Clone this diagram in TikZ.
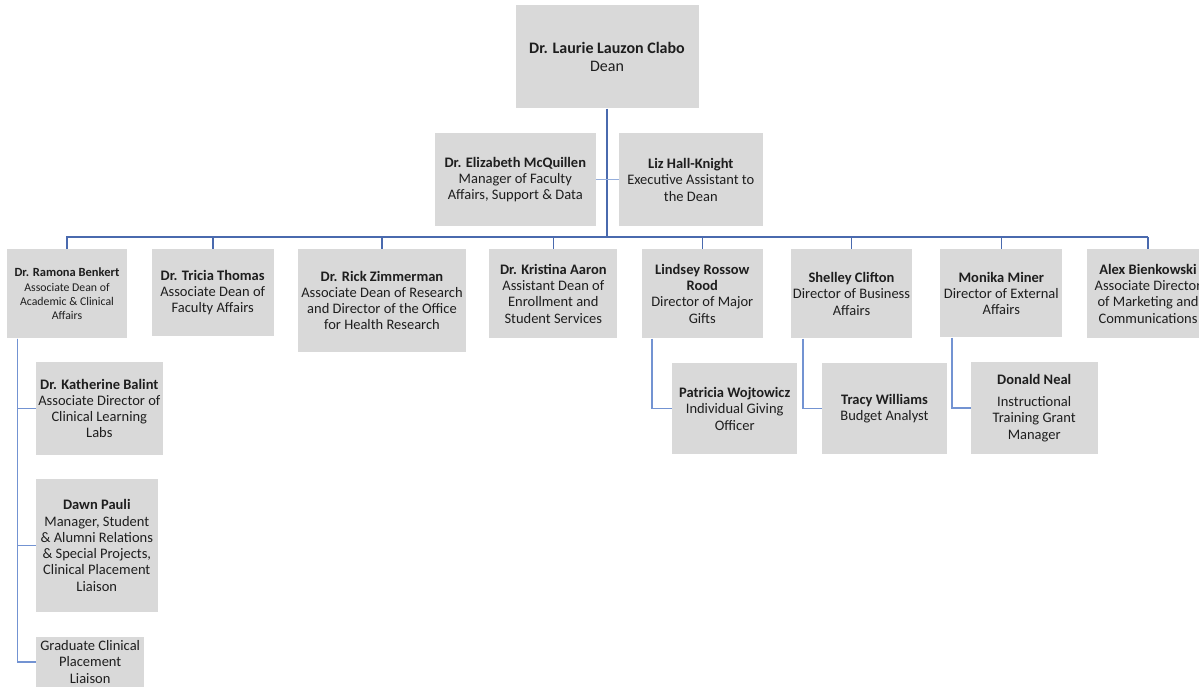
\documentclass[tikz,border=0pt]{standalone}
\usepackage{fontspec}
\setmainfont{Carlito}
\definecolor{boxgray}{HTML}{D9D9D9}
\definecolor{txt}{HTML}{1E1E1E}
\definecolor{trunkblue}{HTML}{4A6AAE}
\definecolor{subblue}{HTML}{7393D2}
\definecolor{asstblue}{HTML}{95AEDC}
\begin{document}
\begin{tikzpicture}[x=1pt,y=-1pt,
  box/.style={rectangle, fill=boxgray, inner sep=0pt, align=center, text=txt,
    font=\fontsize{14.5}{16.3}\selectfont},
  deanbox/.style={box, font=\fontsize{16}{18.3}\selectfont},
  smallbox/.style={box, font=\fontsize{11.8}{14.2}\selectfont},
  trunk/.style={draw=trunkblue, line width=2pt},
  drop/.style={draw=trunkblue, line width=1.6pt},
  sub/.style={draw=subblue, line width=1.5pt},
  asst/.style={draw=asstblue, line width=1.5pt}]
\useasboundingbox (0,0) rectangle (1199,687);
\clip (0,0) rectangle (1199,687);

% top
\node[deanbox, minimum width=183pt, minimum height=103.5pt] (dean) at (607,56.75)
  {\textbf{Dr. Laurie Lauzon Clabo}\\Dean};
\node[box, minimum width=160.7pt, minimum height=92.7pt] (mcq) at (515.3,179.7)
  {\textbf{Dr. Elizabeth McQuillen}\\Manager of Faculty\\Affairs, Support \& Data};
\node[box, minimum width=143.7pt, minimum height=92.7pt] (liz) at (690.8,179.7)
  {\textbf{Liz Hall-Knight}\\Executive Assistant to\\the Dean};

% second row
\node[smallbox, minimum width=120.6pt, minimum height=89pt] (ramona) at (67,293.8)
  {\textbf{\fontsize{12.5}{14.2}\selectfont Dr. Ramona Benkert}\\Associate Dean of\\Academic \& Clinical\\Affairs};
\node[box, minimum width=122pt, minimum height=86.4pt] (tricia) at (212.7,292.5)
  {\textbf{Dr. Tricia Thomas}\\Associate Dean of\\Faculty Affairs};
\node[box, minimum width=167.4pt, minimum height=102.4pt] (rick) at (382,300.5)
  {\textbf{Dr. Rick Zimmerman}\\Associate Dean of Research\\and Director of the Office\\for Health Research};
\node[box, minimum width=128pt, minimum height=89pt] (kristina) at (553.3,293.8)
  {\textbf{Dr. Kristina Aaron}\\Assistant Dean of\\Enrollment and\\Student Services};
\node[box, minimum width=120.7pt, minimum height=89pt] (lindsey) at (702.3,293.8)
  {\textbf{Lindsey Rossow}\\\textbf{Rood}\\Director of Major\\Gifts};
\node[box, minimum width=121pt, minimum height=89pt] (shelley) at (851.5,293.8)
  {\textbf{Shelley Clifton}\\Director of Business\\Affairs};
\node[box, minimum width=122pt, minimum height=88pt] (monika) at (1001.3,293.3)
  {\textbf{Monika Miner}\\Director of External\\Affairs};
\node[box, minimum width=122.6pt, minimum height=89pt] (alex) at (1148,293.8)
  {\textbf{Alex Bienkowski}\\Associate Director\\of Marketing and\\Communications};

% third row
\node[box, minimum width=125.3pt, minimum height=90.7pt] (patricia) at (734.7,408.7)
  {\textbf{Patricia Wojtowicz}\\Individual Giving\\Officer};
\node[box, minimum width=125.6pt, minimum height=90.7pt] (tracy) at (884.5,408.7)
  {\textbf{Tracy Williams}\\Budget Analyst};
\node[box, minimum width=127pt, minimum height=92pt] (donald) at (1034.2,408)
  {\textbf{Donald Neal}\\[6pt]Instructional\\Training Grant\\Manager};

% Ramona's reports
\node[box, minimum width=126.7pt, minimum height=93.6pt] (katherine) at (99.3,408.5)
  {\textbf{Dr. Katherine Balint}\\Associate Director of\\Clinical Learning\\Labs};
\node[box, minimum width=121.7pt, minimum height=133pt] (dawn) at (96.8,545.5)
  {\textbf{Dawn Pauli}\\Manager, Student\\\& Alumni Relations\\\& Special Projects,\\Clinical Placement\\Liaison};
\node[box, minimum width=108.3pt, minimum height=51pt] (grad) at (90.2,662)
  {Graduate Clinical\\Placement\\Liaison};

% connectors
\coordinate (busL) at (66,237.3);
\coordinate (busR) at (1148,237.3);
\draw[trunk] (busL) -- (busR);
\draw[trunk] (dean.south) -- (dean.south |- busL);
\draw[asst] (mcq.east) -- (liz.west);
\foreach \n in {ramona,tricia,rick,kristina,lindsey,shelley,monika,alex}
  \draw[drop] (\n.north |- busL) -- (\n.north);

\draw[sub] ([xshift=11pt]ramona.south west) |- (katherine.west);
\draw[sub] ([xshift=11pt]ramona.south west) |- (dawn.west);
\draw[sub] ([xshift=11pt]ramona.south west) |- (grad.west);
\draw[sub] ([xshift=10.3pt]lindsey.south west) |- (patricia.west);
\draw[sub] ([xshift=12pt]shelley.south west) |- (tracy.west);
\draw[sub] ([xshift=11.7pt]monika.south west) |- (donald.west);
\end{tikzpicture}
\end{document}
